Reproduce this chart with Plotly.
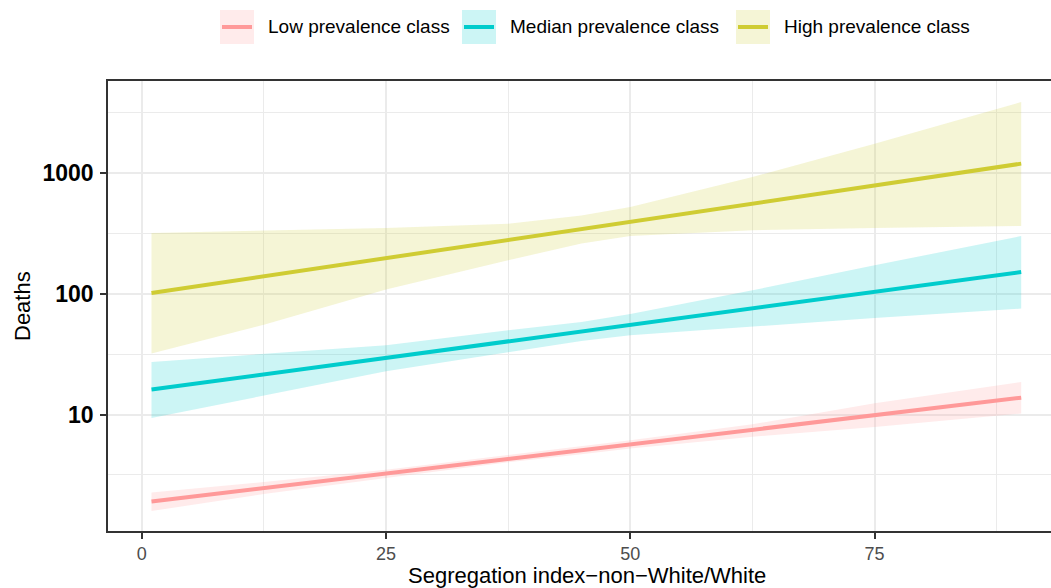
import plotly.graph_objects as go

# ---------------- data ----------------
seg_index = [1, 12.5, 25, 37.5, 45, 50, 62.5, 75, 90]

low_fit   = [1.905, 2.46, 3.25, 4.29, 5.07, 5.67, 7.48, 9.89, 13.8]
low_upper = [2.26, 2.76, 3.50, 4.63, 5.49, 6.14, 8.30, 12.4, 18.6]
low_lower = [1.59, 2.20, 2.99, 4.02, 4.69, 5.23, 6.55, 7.90, 10.2]

med_fit   = [16.1, 21.5, 29.5, 40.4, 48.8, 55.3, 75.8, 103.8, 151.5]
med_upper = [27.3, 31.7, 37.5, 49.9, 58.5, 68.0, 106.9, 172.2, 301]
med_lower = [9.37, 14.3, 22.8, 32.8, 40.7, 45.3, 53.8, 63.0, 75.4]

high_fit   = [101.5, 139.6, 195.6, 279.1, 343.7, 394.8, 558.3, 789.2, 1196]
high_upper = [318.7, 332.3, 350.5, 381, 445, 523, 926.7, 1751, 3870]
high_lower = [32.0, 55.4, 108.3, 189.7, 260.4, 301, 335.6, 350.5, 364]

class_names = ["Low prevalence class", "Median prevalence class", "High prevalence class"]
line_colors = ["#FF9999", "#00CCCC", "#CFCC33"]
fill_colors = ["rgba(255,153,153,0.2)", "rgba(0,204,204,0.2)", "rgba(207,204,51,0.2)"]

y_tick_vals = [10, 100, 1000]
y_tick_text = ["<b>10</b>", "<b>100</b>", "<b>1000</b>"]
x_tick_vals = [0, 25, 50, 75]

series = [
    (low_fit, low_upper, low_lower),
    (med_fit, med_upper, med_lower),
    (high_fit, high_upper, high_lower),
]

FONT = "Liberation Sans, Arial, sans-serif"
BOLD_FONT = "Arial, Liberation Sans, Roboto, sans-serif"

fig = go.Figure()

# ribbons first
for (fit, up, lo), fc in zip(series, fill_colors):
    fig.add_trace(go.Scatter(x=seg_index, y=lo, mode="lines", line=dict(width=0),
                             showlegend=False, hoverinfo="skip"))
    fig.add_trace(go.Scatter(x=seg_index, y=up, mode="lines", line=dict(width=0),
                             fill="tonexty", fillcolor=fc, showlegend=False, hoverinfo="skip"))
# fitted lines
for (fit, up, lo), lc, nm in zip(series, line_colors, class_names):
    fig.add_trace(go.Scatter(x=seg_index, y=fit, mode="lines", name=nm,
                             line=dict(color=lc, width=4), showlegend=False))

W, H = 1051, 588
ML, MR, MT, MB = 108, 0, 81, 57
PW, PH = W - ML - MR, H - MT - MB

def px(xp):
    return (xp - ML) / PW

def py(yp):
    return (H - MB - yp) / PH

# manual legend (ggplot style keys)
key_left = [220, 462, 736]
shapes = []
annotations = []
for kl, lc, fc, nm in zip(key_left, line_colors, fill_colors, class_names):
    shapes.append(dict(type="rect", xref="paper", yref="paper",
                       x0=px(kl), x1=px(kl + 34), y0=py(44), y1=py(10),
                       fillcolor=fc, line=dict(width=0), layer="above"))
    shapes.append(dict(type="line", xref="paper", yref="paper",
                       x0=px(kl + 2), x1=px(kl + 32), y0=py(27), y1=py(27),
                       line=dict(color=lc, width=4), layer="above"))
    annotations.append(dict(text=nm, xref="paper", yref="paper", x=px(kl + 46), y=py(27),
                            xanchor="left", yanchor="middle", showarrow=False,
                            font=dict(family=FONT, size=19, color="#000000")))

# axis titles
annotations.append(dict(text="Segregation index\u2212non\u2212White/White", xref="paper", yref="paper",
                        x=px(586.5), y=py(575), xanchor="center", yanchor="middle", showarrow=False,
                        font=dict(family=FONT, size=22, color="#000000")))
annotations.append(dict(text="Deaths", xref="paper", yref="paper", textangle=-90,
                        x=px(22), y=py(306), xanchor="center", yanchor="middle", showarrow=False,
                        font=dict(family=FONT, size=22, color="#000000")))

fig.update_layout(
    width=W, height=H,
    margin=dict(l=ML, r=MR, t=MT, b=MB, pad=0),
    paper_bgcolor="white", plot_bgcolor="white",
    showlegend=False,
    font=dict(family=FONT),
    shapes=shapes, annotations=annotations,
)

fig.update_xaxes(
    range=[-3.45, 93.05], tickmode="array", tickvals=x_tick_vals,
    showgrid=True, gridcolor="#EBEBEB", gridwidth=1.6,
    minor=dict(tickmode="linear", tick0=0, dtick=12.5, showgrid=True,
               gridcolor="#EBEBEB", gridwidth=0.8, ticks=""),
    zeroline=False, showline=True, linecolor="#333333", linewidth=1.6, mirror=True,
    ticks="outside", ticklen=6, tickwidth=1.5, tickcolor="#333333",
    tickfont=dict(family=FONT, size=18, color="#4D4D4D"),
    ticklabelstandoff=0,
)
fig.update_yaxes(
    type="log", range=[0.036, 3.762], tickmode="array",
    tickvals=y_tick_vals, ticktext=y_tick_text,
    showgrid=True, gridcolor="#EBEBEB", gridwidth=1.6,
    minor=dict(tickmode="linear", tick0=0, dtick=0.5, showgrid=True,
               gridcolor="#EBEBEB", gridwidth=0.8, ticks=""),
    zeroline=False, showline=True, linecolor="#333333", linewidth=1.6, mirror=False,
    ticks="outside", ticklen=6, tickwidth=1.5, tickcolor="#333333",
    tickfont=dict(family=BOLD_FONT, size=23, color="#000000"),
    ticklabelstandoff=2,
)

fig.write_html("out.html", config={"displayModeBar": False},
               post_script="document.body.style.margin='0';document.body.style.overflow='hidden';")
